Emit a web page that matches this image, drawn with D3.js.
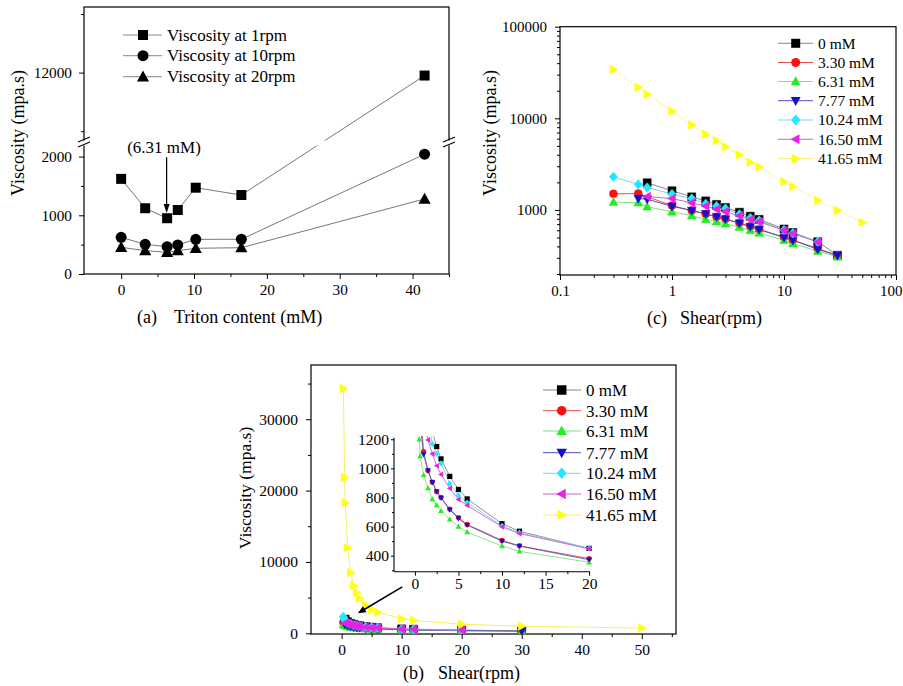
<!DOCTYPE html>
<html><head><meta charset="utf-8">
<script src="https://cdn.jsdelivr.net/npm/d3@7"></script>
<style>body{margin:0;background:#fff} svg{display:block}</style>
</head><body><svg id="c" width="903" height="686"></svg>
<script>
// ---------------- DATA ----------------
// Panel (a)
const tritonConc = [0, 3.30, 6.31, 7.77, 10.24, 16.50, 41.65];
const visc1rpm  = [1620, 1120, 950, 1090, 1470, 1345, 11950];
const visc10rpm = [625, 505, 465, 495, 590, 592, 2040];
const visc20rpm = [455, 397, 370, 397, 438, 448, 1278];
const seriesA = ["Viscosity at 1rpm", "Viscosity at 10rpm", "Viscosity at 20rpm"];

// Panels (b) and (c)
const seriesNames = ["0 mM", "3.30 mM", "6.31 mM", "7.77 mM", "10.24 mM", "16.50 mM", "41.65 mM"];
const shear_0     = [0.6, 1, 1.5, 2, 2.5, 3, 4, 5, 6, 10, 12, 20, 30];
const visc_0      = [1980, 1620, 1390, 1255, 1150, 1065, 945, 855, 790, 620, 568, 450, 320];
const shear_330   = [0.3, 0.5, 1, 1.5, 2, 2.5, 3, 4, 5, 6, 10, 12, 20, 30];
const visc_330    = [1500, 1510, 1115, 985, 905, 840, 800, 720, 662, 615, 505, 468, 380, 320];
const shear_631   = [0.3, 0.5, 0.6, 1, 1.5, 2, 2.5, 3, 4, 5, 6, 10, 12, 20, 30];
const visc_631    = [1220, 1200, 1085, 955, 865, 790, 748, 708, 650, 600, 562, 467, 430, 355, 308];
const shear_777   = [0.5, 0.6, 1, 1.5, 2, 2.5, 3, 4, 5, 6, 10, 12, 20, 30];
const visc_777    = [1330, 1310, 1095, 985, 905, 842, 796, 716, 656, 610, 500, 466, 372, 318];
const shear_1024  = [0.3, 0.5, 0.6, 1, 1.5, 2, 2.5, 3, 4, 5, 6, 10, 12, 20];
const visc_1024   = [2300, 1900, 1760, 1490, 1330, 1168, 1100, 1035, 895, 815, 765, 605, 558, 450];
const shear_1650  = [0.6, 1, 1.5, 2, 2.5, 3, 4, 5, 6, 10, 12, 20];
const visc_1650   = [1400, 1330, 1195, 1100, 1018, 958, 862, 786, 745, 598, 552, 447];
const shear_4165  = [0.3, 0.5, 0.6, 1, 1.5, 2, 2.5, 3, 4, 5, 6, 10, 12, 20, 30, 50];
const visc_4165   = [34300, 21800, 18300, 12000, 8500, 6700, 5700, 4900, 4000, 3300, 2950, 2030, 1800, 1270, 990, 730];
const shearValues = [shear_0, shear_330, shear_631, shear_777, shear_1024, shear_1650, shear_4165];
const viscValues  = [visc_0, visc_330, visc_631, visc_777, visc_1024, visc_1650, visc_4165];

// tick values
const ticksAx = [0, 10, 20, 30, 40], minorAx = [5, 15, 25, 35, 45];
const ticksAyLow = [0, 1000, 2000], minorAyLow = [500, 1500];
const ticksAyUp = [12000], minorAyUp = [11000, 13000];
const ticksCx = [0.1, 1, 10, 100];
const ticksCy = [1000, 10000, 100000];
const ticksBx = [0, 10, 20, 30, 40, 50], minorBx = [5, 15, 25, 35, 45, 55];
const ticksBy = [0, 10000, 20000, 30000], minorBy = [5000, 15000, 25000, 35000];
const ticksIx = [0, 5, 10, 15, 20], minorIx = [2.5, 7.5, 12.5, 17.5];
const ticksIy = [400, 600, 800, 1000, 1200], minorIy = [300, 500, 700, 900, 1100];

// ---------------- STYLE ----------------
const F = "'Liberation Serif','Times New Roman',serif";
const colors = ["#000000", "#ff1010", "#22ee22", "#1010d0", "#22e8ff", "#e820e8", "#ffff10"];
const lineColors = ["#888888", "#e05050", "#80e080", "#5050c0", "#70d8f0", "#d060d0", "#f4f060"];
const shapes = ["square", "circle", "up", "down", "diamond", "left", "right"];
const shapesA = ["square", "circle", "up"];
const plain = d3.format("");

function shapePath(t, s) {
  const h = s / 2;
  switch (t) {
    case "square": return `M${-h},${-h}H${h}V${h}H${-h}Z`;
    case "circle": return `M${h},0A${h},${h} 0 1,1 ${-h},0A${h},${h} 0 1,1 ${h},0Z`;
    case "up": return `M0,${-h*1.15}L${h*1.1},${h*0.85}L${-h*1.1},${h*0.85}Z`;
    case "down": return `M0,${h*1.15}L${h*1.1},${-h*0.85}L${-h*1.1},${-h*0.85}Z`;
    case "left": return `M${-h*1.15},0L${h*0.85},${-h*1.1}L${h*0.85},${h*1.1}Z`;
    case "right": return `M${h*1.15},0L${-h*0.85},${-h*1.1}L${-h*0.85},${h*1.1}Z`;
    case "diamond": return `M0,${-h*1.2}L${h*1.05},0L0,${h*1.2}L${-h*1.05},0Z`;
  }
}

const svg = d3.select("#c");
svg.append("rect").attr("width", 903).attr("height", 686).attr("fill", "#fff");
const defs = svg.append("defs");

function styleAxis(g, fs) {
  g.select(".domain").remove();
  g.selectAll("text").attr("font-family", F).attr("font-size", fs).attr("fill", "#000");
  g.selectAll("line").attr("stroke", "#000").attr("stroke-width", 1);
}
function frame(x0, y0, x1, y1) {
  svg.append("rect").attr("x", x0).attr("y", y0).attr("width", x1 - x0).attr("height", y1 - y0)
    .attr("fill", "none").attr("stroke", "#000").attr("stroke-width", 1.2);
}
function text(x, y, s, fs, anchor, rot) {
  const t = svg.append("text").attr("font-family", F).attr("font-size", fs).attr("fill", "#000")
    .attr("text-anchor", anchor || "start").text(s);
  if (rot) t.attr("transform", `translate(${x},${y}) rotate(-90)`);
  else t.attr("x", x).attr("y", y);
  return t;
}

// ================= PANEL (a) =================
const xA = d3.scaleLinear().domain([-5.1, 45]).range([84, 449]);
const yALow = d3.scaleLinear().domain([0, 2180]).range([274, 146]);
const yAUp = d3.scaleLinear().domain([10850, 13120]).range([140, 7]);
const yA = v => v <= 2180 ? yALow(v) : yAUp(v);

frame(84, 7, 449, 274);
svg.append("g").attr("transform", "translate(0,274)")
  .call(d3.axisBottom(xA).tickValues(ticksAx).tickSize(5).tickPadding(5).tickFormat(plain).tickSizeOuter(0)).call(g => styleAxis(g, 15.3));
svg.append("g").attr("transform", "translate(0,274)")
  .call(d3.axisBottom(xA).tickValues(minorAx).tickSize(3).tickFormat("").tickSizeOuter(0)).call(g => styleAxis(g, 15));
svg.append("g").attr("transform", "translate(84,0)")
  .call(d3.axisLeft(yALow).tickValues(ticksAyLow).tickSize(5).tickPadding(7).tickFormat(plain).tickSizeOuter(0)).call(g => styleAxis(g, 15.3));
svg.append("g").attr("transform", "translate(84,0)")
  .call(d3.axisLeft(yALow).tickValues(minorAyLow).tickSize(3).tickFormat("").tickSizeOuter(0)).call(g => styleAxis(g, 15));
svg.append("g").attr("transform", "translate(84,0)")
  .call(d3.axisLeft(yAUp).tickValues(ticksAyUp).tickSize(5).tickPadding(7).tickFormat(plain).tickSizeOuter(0)).call(g => styleAxis(g, 15.3));
svg.append("g").attr("transform", "translate(84,0)")
  .call(d3.axisLeft(yAUp).tickValues(minorAyUp).tickSize(3).tickFormat("").tickSizeOuter(0)).call(g => styleAxis(g, 15));

const seriesAValues = [visc1rpm, visc10rpm, visc20rpm];
const lineA = d3.line().x(d => xA(d[0])).y(d => yA(d[1]));
seriesAValues.forEach(vals => {
  const pts = tritonConc.map((c, i) => [c, vals[i]]);
  svg.append("path").attr("d", lineA(pts)).attr("fill", "none").attr("stroke", "#777").attr("stroke-width", 1);
});
const sizeA = [10, 11, 11];
seriesAValues.forEach((vals, k) => {
  svg.append("g").selectAll("path").data(tritonConc.map((c, i) => [c, vals[i]])).join("path")
    .attr("d", shapePath(shapesA[k], sizeA[k])).attr("fill", "#000")
    .attr("transform", d => `translate(${xA(d[0])},${yA(d[1])})`);
});
// axis break band
svg.append("rect").attr("x", 70).attr("y", yAUp(10850) + 0.5).attr("width", 392)
  .attr("height", yALow(2180) - yAUp(10850) - 1).attr("fill", "#fff");
[84, 449].forEach(bx => {
  [0, 5].forEach(off => {
    svg.append("line").attr("x1", bx - 6).attr("y1", 142 + off).attr("x2", bx + 6).attr("y2", 137 + off)
      .attr("stroke", "#000").attr("stroke-width", 1.1);
  });
});
// legend (a)
const legAy = [35, 55.7, 76.7];
seriesA.forEach((name, k) => {
  svg.append("line").attr("x1", 123).attr("x2", 162).attr("y1", legAy[k]).attr("y2", legAy[k]).attr("stroke", "#888").attr("stroke-width", 1);
  svg.append("path").attr("d", shapePath(shapesA[k], sizeA[k])).attr("fill", "#000").attr("transform", `translate(143,${legAy[k]})`);
  text(167, legAy[k] + 5.5, name, 17);
});
// annotation
text(164, 153, "(6.31 mM)", 17, "middle");
svg.append("line").attr("x1", xA(6.31) - 0.5).attr("x2", xA(6.31) - 0.5).attr("y1", yA(1990)).attr("y2", yA(1120))
  .attr("stroke", "#000").attr("stroke-width", 1.2);
svg.append("path").attr("d", `M${xA(6.31) - 0.5},${yA(1040)}l-3,-9l6,0Z`).attr("fill", "#000");
text(24, 133, "Viscosity (mpa.s)", 18, "middle", true);
text(137, 323, "(a)", 18);
text(174, 323, "Triton content (mM)", 18);

// ================= PANEL (c) =================
const xC = d3.scaleLog().domain([0.1, 100]).range([560, 896]);
const yC = d3.scaleLog().domain([195, 100000]).range([275, 26.7]);
frame(560, 26.7, 896, 275);
const minorCx = [], minorCy = [];
[0.1, 1, 10].forEach(d => { for (let m = 2; m <= 9; m++) minorCx.push(d * m); });
[100, 1000, 10000].forEach(d => { for (let m = 2; m <= 9; m++) { const v = d * m; if (v >= 195) minorCy.push(v); } });
svg.append("g").attr("transform", "translate(0,275)")
  .call(d3.axisBottom(xC).tickValues(ticksCx).tickSize(5).tickPadding(5).tickFormat(plain).tickSizeOuter(0))
  .call(g => styleAxis(g, 15))
  .call(g => g.selectAll("text").filter(d => d === 100).attr("text-anchor", "end").attr("dx", 6));
svg.append("g").attr("transform", "translate(0,275)")
  .call(d3.axisBottom(xC).tickValues(minorCx).tickSize(3).tickFormat("").tickSizeOuter(0)).call(g => styleAxis(g, 15));
svg.append("g").attr("transform", "translate(560,0)")
  .call(d3.axisLeft(yC).tickValues(ticksCy).tickSize(5).tickPadding(8).tickFormat(plain).tickSizeOuter(0)).call(g => styleAxis(g, 15));
svg.append("g").attr("transform", "translate(560,0)")
  .call(d3.axisLeft(yC).tickValues(minorCy).tickSize(3).tickFormat("").tickSizeOuter(0)).call(g => styleAxis(g, 15));

const lineC = d3.line().x(d => xC(d[0])).y(d => yC(d[1]));
const gC = svg.append("g");
seriesNames.forEach((n, k) => {
  const pts = shearValues[k].map((s, i) => [s, viscValues[k][i]]);
  gC.append("path").attr("d", lineC(pts)).attr("fill", "none").attr("stroke", lineColors[k]).attr("stroke-width", 1)
    .attr("stroke-dasharray", k === 6 ? "2,1.5" : null);
});
seriesNames.forEach((n, k) => {
  gC.append("g").selectAll("path").data(shearValues[k].map((s, i) => [s, viscValues[k][i]])).join("path")
    .attr("d", shapePath(shapes[k], 8)).attr("fill", colors[k]).attr("stroke", colors[k]).attr("stroke-width", 0.5)
    .attr("transform", d => `translate(${xC(d[0])},${yC(d[1])})`);
});
const legCy = [43.3, 62.5, 81.5, 100.7, 120, 139.3, 158.7];
seriesNames.forEach((n, k) => {
  svg.append("line").attr("x1", 778).attr("x2", 813).attr("y1", legCy[k]).attr("y2", legCy[k]).attr("stroke", lineColors[k]).attr("stroke-width", 1);
  svg.append("path").attr("d", shapePath(shapes[k], 9)).attr("fill", colors[k]).attr("transform", `translate(795.7,${legCy[k]})`);
  text(818, legCy[k] + 5.2, n, 15.5);
});
text(496, 133, "Viscosity (mpa.s)", 18, "middle", true);
text(647, 324, "(c)", 18);
text(680, 324, "Shear(rpm)", 18);

// ================= PANEL (b) =================
const xB = d3.scaleLinear().domain([-5.1, 55.7]).range([311, 676]);
const yB = d3.scaleLinear().domain([-100, 37600]).range([634, 365]);
frame(311, 365, 676, 634);
svg.append("g").attr("transform", "translate(0,634)")
  .call(d3.axisBottom(xB).tickValues(ticksBx).tickSize(5).tickPadding(5).tickFormat(plain).tickSizeOuter(0)).call(g => styleAxis(g, 15.5));
svg.append("g").attr("transform", "translate(0,634)")
  .call(d3.axisBottom(xB).tickValues(minorBx).tickSize(3).tickFormat("").tickSizeOuter(0)).call(g => styleAxis(g, 15));
svg.append("g").attr("transform", "translate(311,0)")
  .call(d3.axisLeft(yB).tickValues(ticksBy).tickSize(5).tickPadding(8).tickFormat(plain).tickSizeOuter(0)).call(g => styleAxis(g, 15.5));
svg.append("g").attr("transform", "translate(311,0)")
  .call(d3.axisLeft(yB).tickValues(minorBy).tickSize(3).tickFormat("").tickSizeOuter(0)).call(g => styleAxis(g, 15));

defs.append("clipPath").attr("id", "clipB").append("rect").attr("x", 311).attr("y", 365).attr("width", 365).attr("height", 269);
const lineB = d3.line().x(d => xB(d[0])).y(d => yB(d[1]));
const gB = svg.append("g").attr("clip-path", "url(#clipB)");
seriesNames.forEach((n, k) => {
  const pts = shearValues[k].map((s, i) => [s, viscValues[k][i]]);
  gB.append("path").attr("d", lineB(pts)).attr("fill", "none").attr("stroke", lineColors[k]).attr("stroke-width", 1);
});
seriesNames.forEach((n, k) => {
  gB.append("g").selectAll("path").data(shearValues[k].map((s, i) => [s, viscValues[k][i]])).join("path")
    .attr("d", shapePath(shapes[k], 8)).attr("fill", colors[k]).attr("stroke", colors[k]).attr("stroke-width", 0.5)
    .attr("transform", d => `translate(${xB(d[0])},${yB(d[1])})`);
});
// legend (b)
const legBy = [390, 410.7, 431, 452.7, 473.3, 494, 515];
seriesNames.forEach((n, k) => {
  svg.append("line").attr("x1", 543).attr("x2", 581).attr("y1", legBy[k]).attr("y2", legBy[k]).attr("stroke", lineColors[k]).attr("stroke-width", 1);
  svg.append("path").attr("d", shapePath(shapes[k], 9.5)).attr("fill", colors[k]).attr("transform", `translate(561.7,${legBy[k]})`);
  text(586, legBy[k] + 5.8, n, 17);
});
// arrow (b)
{
  const x1 = xB(10.1), y1 = yB(6500), x2 = xB(2.7), y2 = yB(2800);
  const ang = Math.atan2(y2 - y1, x2 - x1);
  svg.append("line").attr("x1", x1).attr("y1", y1).attr("x2", x2 - 6 * Math.cos(ang)).attr("y2", y2 - 6 * Math.sin(ang))
    .attr("stroke", "#000").attr("stroke-width", 1.5);
  const L = 8, W = 3.5;
  const bx = x2 - L * Math.cos(ang), by = y2 - L * Math.sin(ang);
  svg.append("path").attr("d", `M${x2},${y2}L${bx + W * Math.sin(ang)},${by - W * Math.cos(ang)}L${bx - W * Math.sin(ang)},${by + W * Math.cos(ang)}Z`).attr("fill", "#000");
}
text(251, 488, "Viscosity (mpa.s)", 17.5, "middle", true);
text(403, 679, "(b)", 18);
text(438, 679, "Shear(rpm)", 18);

// ---------- inset ----------
const xI = d3.scaleLinear().domain([-2.4, 20.1]).range([394, 590]);
const yI = d3.scaleLinear().domain([290, 1210]).range([571.7, 437.8]);
svg.append("line").attr("x1", 394).attr("x2", 394).attr("y1", 437.8).attr("y2", 571.7).attr("stroke", "#000").attr("stroke-width", 1.1);
svg.append("line").attr("x1", 394).attr("x2", 590).attr("y1", 571.7).attr("y2", 571.7).attr("stroke", "#000").attr("stroke-width", 1.1);
svg.append("g").attr("transform", "translate(0,571.7)")
  .call(d3.axisBottom(xI).tickValues(ticksIx).tickSize(4).tickPadding(2).tickFormat(plain).tickSizeOuter(0)).call(g => styleAxis(g, 15.5));
svg.append("g").attr("transform", "translate(0,571.7)")
  .call(d3.axisBottom(xI).tickValues(minorIx).tickSize(2.5).tickFormat("").tickSizeOuter(0)).call(g => styleAxis(g, 15));
svg.append("g").attr("transform", "translate(394,0)")
  .call(d3.axisLeft(yI).tickValues(ticksIy).tickSize(3).tickPadding(2).tickFormat(plain).tickSizeOuter(0)).call(g => styleAxis(g, 15.5));
svg.append("g").attr("transform", "translate(394,0)")
  .call(d3.axisLeft(yI).tickValues(minorIy).tickSize(2).tickFormat("").tickSizeOuter(0)).call(g => styleAxis(g, 15));
defs.append("clipPath").attr("id", "clipI").append("rect").attr("x", 394).attr("y", 436).attr("width", 200).attr("height", 136);
const lineI = d3.line().x(d => xI(d[0])).y(d => yI(d[1]));
const gI = svg.append("g").attr("clip-path", "url(#clipI)");
seriesNames.forEach((n, k) => {
  if (k === 6) return;
  const pts = shearValues[k].map((s, i) => [s, viscValues[k][i]]).filter(d => d[0] <= 20);
  gI.append("path").attr("d", lineI(pts)).attr("fill", "none").attr("stroke", lineColors[k]).attr("stroke-width", 0.9);
});
seriesNames.forEach((n, k) => {
  if (k === 6) return;
  const pts = shearValues[k].map((s, i) => [s, viscValues[k][i]]).filter(d => d[0] <= 20 && d[1] <= 1205);
  gI.append("g").selectAll("path").data(pts).join("path")
    .attr("d", shapePath(shapes[k], 5.2)).attr("fill", colors[k])
    .attr("transform", d => `translate(${xI(d[0])},${yI(d[1])})`);
});
</script></body></html>
